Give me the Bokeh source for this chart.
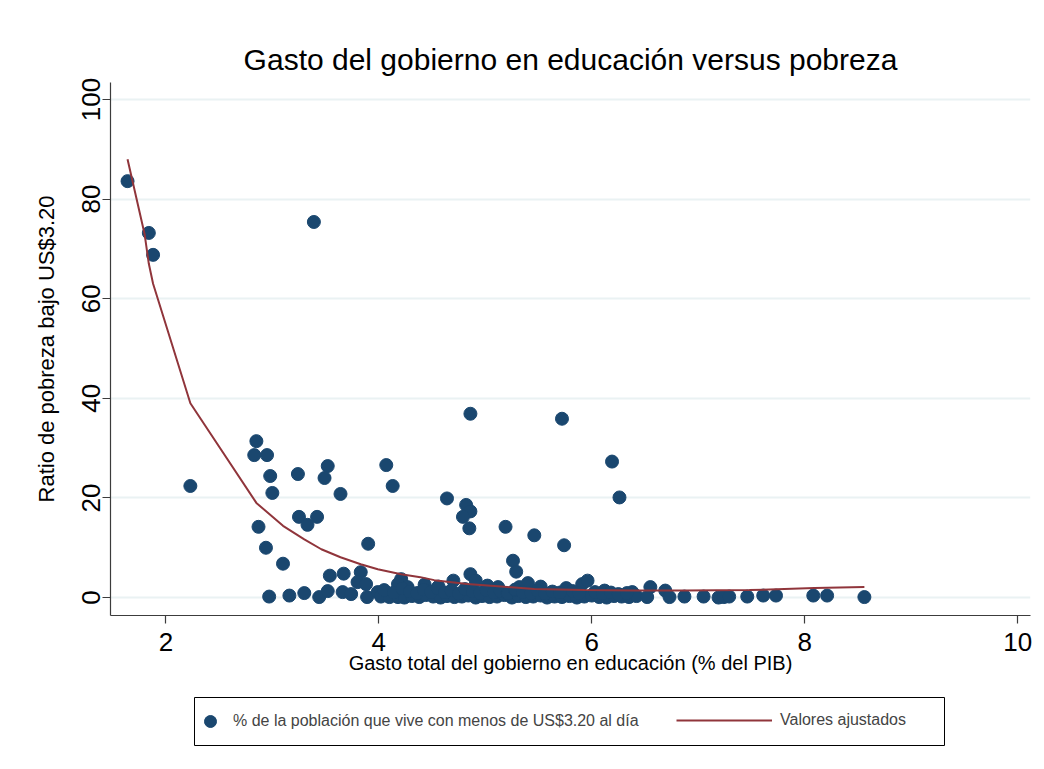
from bokeh.plotting import figure
from bokeh.layouts import column
from bokeh.models import Range1d, Legend, LegendItem, BoxAnnotation, ColumnDataSource
from bokeh.embed import file_html
from bokeh.resources import INLINE

# ---------------- data ----------------
# gasto en educación (% del PIB)
gasto = [
    1.64, 1.84, 1.88, 3.39, 2.23,
    2.85, 2.83, 2.95, 2.98, 3.00, 2.87, 2.94, 3.10,
    3.24, 3.25, 3.33, 3.42, 3.52, 3.49, 3.64, 3.90, 4.07, 4.13,
    3.54, 3.67, 3.83, 3.80, 3.88,
    2.97, 3.16, 3.30, 3.44, 3.52, 3.66, 3.74, 3.89, 3.99, 4.08, 4.18,
    4.86, 5.72, 6.19, 6.26, 4.64, 4.82, 4.86, 4.79, 4.85, 5.19, 5.46, 5.74,
    5.26, 5.29,
    4.21, 4.18, 4.27, 4.43, 4.56, 4.70, 4.86, 4.91, 5.02, 5.12, 5.32, 5.40,
    5.52, 5.76, 5.91, 5.96, 6.12, 6.38, 6.55, 6.69,
    4.02, 4.10, 4.17, 4.24, 4.31, 4.38, 4.44, 4.51, 4.58, 4.64, 4.71, 4.78,
    4.84, 4.91, 4.97, 5.04, 5.11, 5.18, 5.25, 5.31, 5.38, 5.45, 5.52, 5.58,
    5.65, 5.72, 5.79, 5.86, 5.93, 6.00, 6.07, 6.14, 6.21, 6.28, 6.35, 6.42,
    4.05, 4.14, 4.22, 4.29, 4.36, 4.42, 4.49, 4.55, 4.62, 4.68, 4.75, 4.81,
    4.88, 4.95, 5.01, 5.08, 5.14, 5.21, 5.28, 5.35, 5.43, 5.49, 5.56, 5.63,
    5.70, 5.82, 5.88, 6.03, 6.10, 6.18, 6.25, 6.33,
    6.52, 6.73, 6.87, 7.05, 7.19, 7.24, 7.29, 7.46, 7.61, 7.73, 8.08, 8.21, 8.56,
]
# % de la población que vive con menos de US$3.20 al día
pobreza = [
    83.6, 73.2, 68.8, 75.4, 22.4,
    31.4, 28.6, 28.6, 24.4, 21.0, 14.2, 10.0, 6.8,
    24.8, 16.2, 14.6, 16.2, 26.4, 24.0, 20.8, 10.8, 26.6, 22.4,
    4.4, 4.8, 5.1, 3.1, 2.7,
    0.2, 0.4, 0.9, 0.1, 1.3, 1.1, 0.7, 0.1, 1.1, 0.4, 0.1,
    36.9, 35.9, 27.3, 20.1, 19.9, 18.6, 17.3, 16.2, 13.9, 14.2, 12.5, 10.5,
    7.4, 5.2,
    3.7, 2.7, 2.1, 2.6, 2.2, 3.4, 4.7, 3.4, 2.4, 2.1, 2.1, 2.9,
    2.2, 1.9, 2.7, 3.4, 1.4, 1.1, 2.1, 1.4,
    0.2, 0.1, 0.4, 0.0, 0.3, 0.1, 0.5, 0.2, 0.0, 0.3, 0.1, 0.2,
    0.4, 0.0, 0.3, 0.1, 0.2, 0.5, 0.0, 0.3, 0.1, 0.2, 0.4, 0.0,
    0.2, 0.1, 0.3, 0.0, 0.2, 0.4, 0.1, 0.0, 0.3, 0.2, 0.1, 0.3,
    1.5, 1.0, 1.8, 1.2, 0.9, 1.6, 1.1, 1.9, 1.0, 1.4, 0.8, 1.7,
    1.2, 0.9, 1.5, 1.0, 1.3, 0.8, 1.6, 1.1, 0.9, 1.4, 0.8, 1.2,
    1.0, 1.3, 0.9, 1.1, 0.8, 1.0, 0.7, 0.9,
    0.1, 0.1, 0.2, 0.2, 0.0, 0.1, 0.2, 0.2, 0.4, 0.4, 0.4, 0.4, 0.1,
]
# valores ajustados (línea de ajuste)
ajuste_x = [1.64, 1.80, 1.84, 1.88, 2.23, 2.85, 3.10, 3.30, 3.46, 3.64, 3.83,
            3.99, 4.21, 4.39, 4.52, 4.83, 5.15, 5.46, 5.93, 6.40, 6.87, 7.48,
            8.09, 8.56]
ajuste_y = [88.0, 73.0, 67.0, 63.0, 39.0, 19.0, 14.4, 11.7, 9.7, 8.1, 6.7,
            5.7, 4.7, 4.1, 3.5, 2.7, 2.2, 1.7, 1.5, 1.4, 1.4, 1.5,
            1.9, 2.1]

x_ticks = [2, 4, 6, 8, 10]
y_ticks = [0, 20, 40, 60, 80, 100]

titulo = "Gasto del gobierno en educación versus pobreza"
x_titulo = "Gasto total del gobierno en educación (% del PIB)"
y_titulo = "Ratio de pobreza bajo US$3.20"
leyenda_puntos = "% de la población que vive con menos de US$3.20 al día"
leyenda_linea = "Valores ajustados"

# ---------------- styling ----------------
FONT = "'Liberation Sans', Arial, sans-serif"
NAVY = "#1a476f"
MAROON = "#90353b"
GRID = "#eaf2f3"
AXIS = "#3c3c3c"
W = 1036

p = figure(width=W, height=680, output_backend="svg", toolbar_location=None,
           x_range=Range1d(1.48, 10.12), y_range=Range1d(-3.6, 103.4),
           min_border_left=110, min_border_right=6, min_border_top=82,
           min_border_bottom=65, background_fill_color="white",
           border_fill_color="white")
p.outline_line_color = None

p.title.text = titulo
p.title.align = "center"
p.title.text_font = FONT
p.title.text_font_size = "30px"
p.title.text_font_style = "normal"
p.title.text_color = "black"
p.title.standoff = 14

src = ColumnDataSource(dict(x=gasto, y=pobreza))
r_pts = p.scatter("x", "y", source=src, size=13, marker="circle",
                  fill_color=NAVY, line_color=NAVY)
r_fit = p.line(ajuste_x, ajuste_y, line_color=MAROON, line_width=2)

for ax in (p.xaxis, p.yaxis):
    ax.axis_line_color = AXIS
    ax.axis_line_width = 1.2
    ax.major_tick_line_color = AXIS
    ax.major_tick_line_width = 1.2
    ax.major_tick_out = 8
    ax.major_tick_in = 0
    ax.minor_tick_line_color = None
    ax.major_label_text_font = FONT
    ax.major_label_text_font_size = "26px"
    ax.major_label_text_color = "black"
    ax.axis_label_text_font = FONT
    ax.axis_label_text_font_style = "normal"
    ax.axis_label_text_color = "black"

p.xaxis.axis_label_text_font_size = "20px"
p.yaxis.axis_label_text_font_size = "22px"
p.xaxis.ticker = x_ticks
p.yaxis.ticker = y_ticks
p.xaxis.axis_label = x_titulo
p.yaxis.axis_label = y_titulo
p.yaxis.major_label_orientation = "vertical"
p.xaxis.major_label_standoff = 9
p.xaxis.axis_label_standoff = -2
p.yaxis.major_label_standoff = 2
p.yaxis.axis_label_standoff = 21

p.xgrid.grid_line_color = None
p.ygrid.grid_line_color = GRID
p.ygrid.grid_line_width = 2

# ---------------- legend panel below the chart ----------------
# (its frame is aligned with the chart frame by the column layout: x 110..1030)
lg = figure(width=W, height=81, output_backend="svg", toolbar_location=None,
            x_range=Range1d(0, 1), y_range=Range1d(0, 1),
            min_border=0, min_border_left=0, min_border_right=0,
            min_border_top=0, min_border_bottom=0,
            background_fill_color="white", border_fill_color="white")
lg.outline_line_color = None
lg.axis.visible = False
lg.grid.visible = False
# legend proxies: the first data point lies outside this panel's 0..1 ranges
lg_pts = lg.scatter(gasto[:1], pobreza[:1], size=13, marker="circle",
                    fill_color=NAVY, line_color=NAVY)
lg_fit = lg.line(ajuste_x[:2], ajuste_y[:2], line_color=MAROON, line_width=2)

box = BoxAnnotation(left=84, right=834, bottom=16, top=64,
                    left_units="screen", right_units="screen",
                    top_units="screen", bottom_units="screen",
                    fill_color="white", fill_alpha=1.0,
                    line_color="black", line_width=1, line_alpha=1.0,
                    level="underlay")
lg.add_layout(box)

leg1 = Legend(items=[LegendItem(label=leyenda_puntos, renderers=[lg_pts])],
              location=(85, 25), glyph_width=30, glyph_height=30,
              label_height=30, padding=0, margin=0, label_standoff=8,
              border_line_color=None, background_fill_alpha=0,
              label_text_font=FONT, label_text_font_size="16px",
              orientation="horizontal")
leg2 = Legend(items=[LegendItem(label=leyenda_linea, renderers=[lg_fit])],
              location=(566, 32), glyph_width=96, glyph_height=16,
              label_height=16, padding=0, margin=0, label_standoff=8,
              border_line_color=None, background_fill_alpha=0,
              label_text_font=FONT, label_text_font_size="16px",
              orientation="horizontal")
lg.add_layout(leg1)
lg.add_layout(leg2)

open("out.html", "w").write(file_html(column(p, lg, spacing=0), INLINE))
